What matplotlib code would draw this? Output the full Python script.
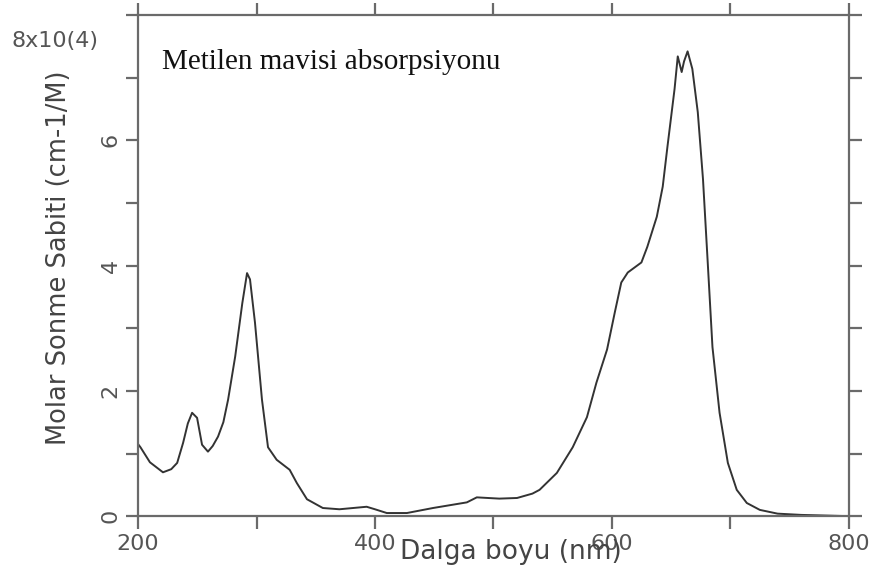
import matplotlib
matplotlib.use("Agg")
import matplotlib.pyplot as plt
from matplotlib.ticker import FixedLocator, FixedFormatter

# methylene blue absorption spectrum (x10^4)
wavelength = [200, 202, 210, 221, 228, 233, 238, 242, 245.6, 249.8, 254, 259, 263,
              267.5, 272, 276, 282, 288, 292, 294.5, 298.7, 304.6, 309.7, 317, 328,
              334, 342.6, 356, 370, 393, 400, 410, 427, 449, 477.6, 486, 505, 520,
              533, 539, 553.6, 567, 579, 587, 596, 602.5, 608, 613.5, 625, 630, 638,
              643, 647, 653, 655.7, 659, 661, 664, 668, 672.6, 677, 681, 685, 691,
              698, 705.5, 714, 725, 740, 760, 780, 800]
molar_abs = [1.15, 1.10, 0.86, 0.70, 0.75, 0.85, 1.17, 1.48, 1.65, 1.57, 1.14, 1.03,
             1.12, 1.27, 1.50, 1.86, 2.55, 3.40, 3.88, 3.78, 3.09, 1.86, 1.10, 0.90,
             0.74, 0.53, 0.27, 0.13, 0.11, 0.15, 0.11, 0.05, 0.05, 0.13, 0.22, 0.30,
             0.28, 0.29, 0.36, 0.42, 0.69, 1.10, 1.58, 2.13, 2.66, 3.25, 3.73, 3.89,
             4.05, 4.30, 4.78, 5.26, 5.90, 6.82, 7.34, 7.09, 7.26, 7.42, 7.14, 6.45,
             5.38, 4.05, 2.70, 1.65, 0.85, 0.42, 0.21, 0.10, 0.04, 0.02, 0.01, 0.0]

x_ticks = [200, 300, 400, 500, 600, 700, 800]
x_ticklabels = ["200", "", "400", "", "600", "", "800"]
y_ticks = [0, 1, 2, 3, 4, 5, 6, 7, 8]
y_ticklabels = ["0", "", "2", "", "4", "", "6", "", ""]

grey = "#555555"

fig = plt.figure(figsize=(8.74, 5.78), dpi=100)
ax = fig.add_axes([0.158, 0.107, 0.813, 0.867])

ax.plot(wavelength, molar_abs, color="#333333", lw=1.4)
ax.set_xlim(200, 800)
ax.set_ylim(0, 8)

for s in ax.spines.values():
    s.set_color("#6a6a6a")
    s.set_linewidth(1.6)

ax.xaxis.set_major_locator(FixedLocator(x_ticks))
ax.xaxis.set_major_formatter(FixedFormatter(x_ticklabels))
ax.yaxis.set_major_locator(FixedLocator(y_ticks))
ax.yaxis.set_major_formatter(FixedFormatter(y_ticklabels))
ax.tick_params(direction="out", length=9, width=1.6, color="#6a6a6a",
               labelcolor=grey, labelsize=16, top=True, right=True)
ax.tick_params(axis="x", pad=4)
for lab in ax.get_yticklabels():
    lab.set_rotation(90)
    lab.set_va("center")

ax.set_xlabel("Dalga boyu (nm)", fontsize=19, color="#444444", va="center")
ax.xaxis.set_label_coords(0.524, -0.072)
ax.set_ylabel("Molar Sonme Sabiti (cm-1/M)", fontsize=18.5, color="#444444",
              va="center", ha="center")
ax.yaxis.set_label_coords(-0.112, 0.515)

ax.text(-0.117, 0.948, "8x10(4)", transform=ax.transAxes, fontsize=16,
        color=grey, ha="center", va="center", clip_on=False)

ax.text(0.034, 0.892, "Metilen mavisi absorpsiyonu", transform=ax.transAxes,
        fontsize=21, family="Liberation Serif", color="#111111", va="baseline")

fig.savefig("out.png", dpi=100)
